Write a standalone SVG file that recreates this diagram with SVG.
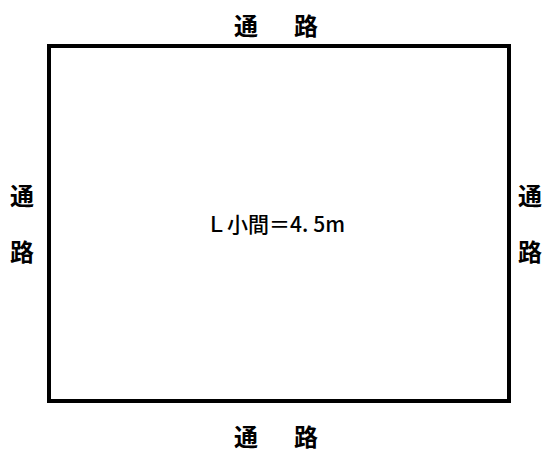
<svg xmlns="http://www.w3.org/2000/svg" width="548" height="454" viewBox="0 0 548 454">
<style>
.lbl{font-family:"Noto Sans CJK JP","Noto Sans",sans-serif;font-size:24px;font-weight:bold;fill:#000}
.ctr{font-family:"Noto Sans CJK JP","Noto Sans",sans-serif;font-size:21px;font-weight:500;fill:#000}
</style>
<rect x="0" y="0" width="548" height="454" fill="#fff"/>
<g id="booth">
<rect x="49" y="46" width="460" height="355" fill="none" stroke="#000" stroke-width="4"/>
<text class="ctr" x="206" y="232">Ｌ小間＝4.<tspan dx="5">5m</tspan></text>
</g>
<g id="aisle-top"><text class="lbl" x="234" y="35">通<tspan x="294">路</tspan></text></g>
<g id="aisle-bottom"><text class="lbl" x="234" y="446">通<tspan x="294">路</tspan></text></g>
<g id="aisle-left"><text class="lbl" x="10" y="205">通</text><text class="lbl" x="10" y="261">路</text></g>
<g id="aisle-right"><text class="lbl" x="518" y="205">通</text><text class="lbl" x="518" y="261">路</text></g>
<g id="connectors"></g>
</svg>
